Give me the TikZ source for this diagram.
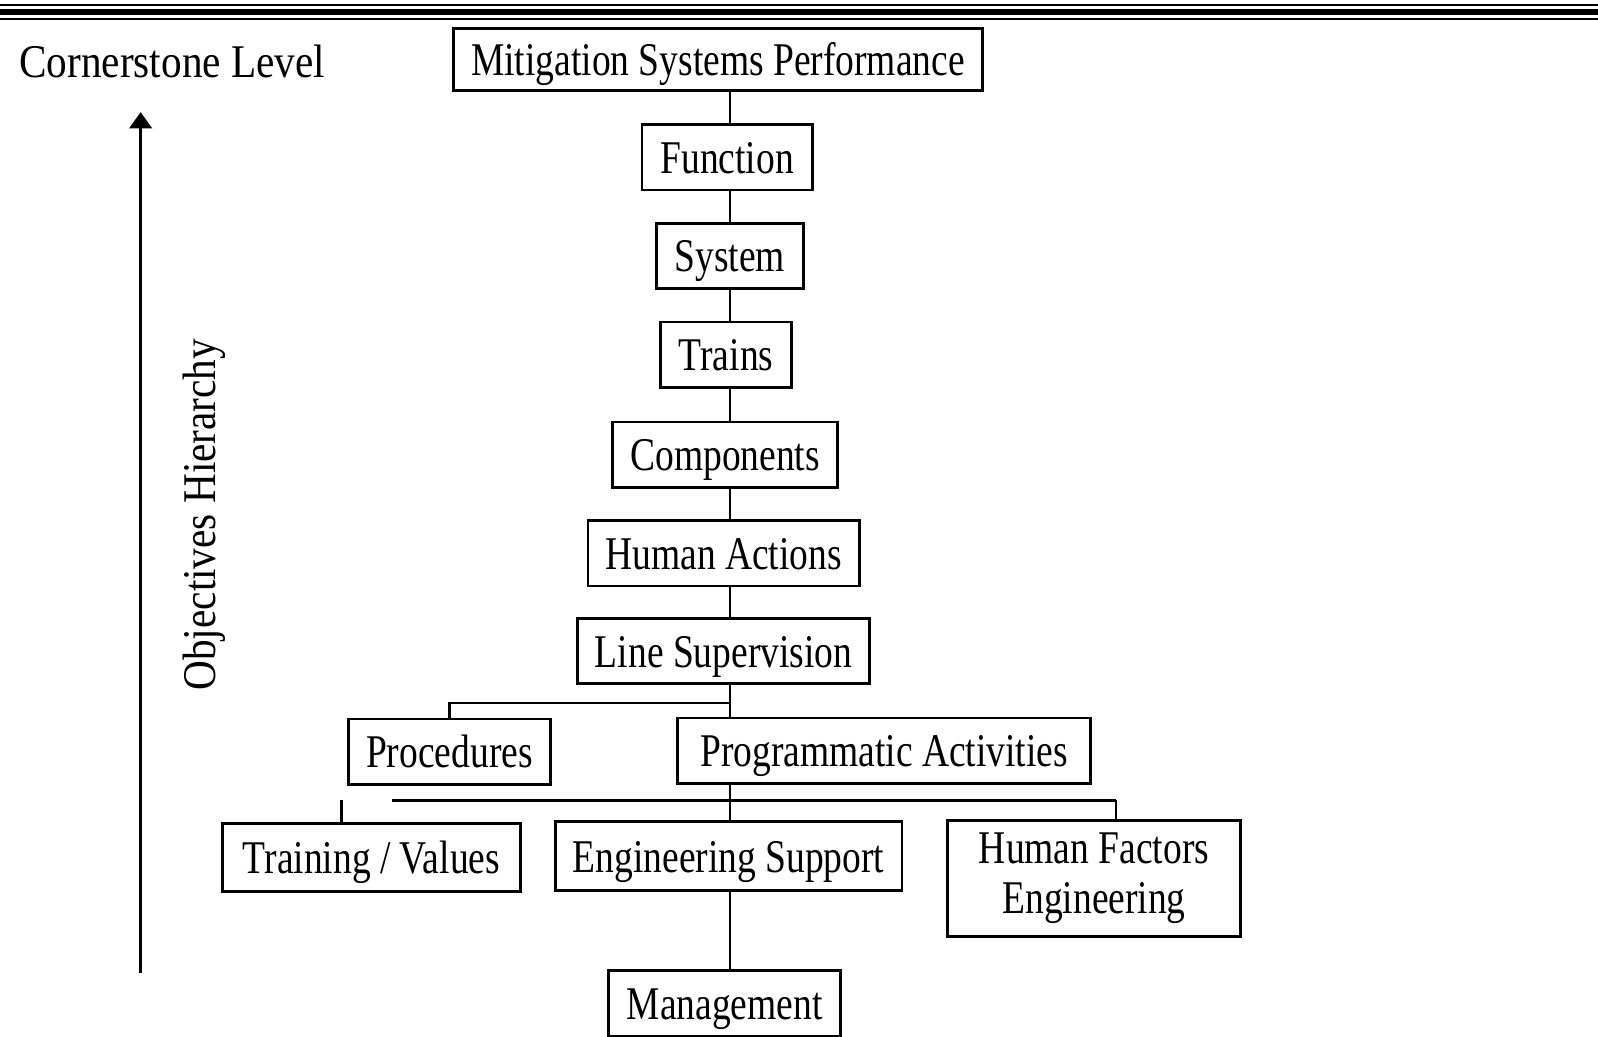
\documentclass[tikz,border=0pt]{standalone}
\usepackage{fontspec}
\setmainfont[FakeStretch=0.8]{Liberation Serif}
\newfontfamily\widefont[FakeStretch=0.88]{Liberation Serif}
\usetikzlibrary{arrows.meta}
\tikzset{
  box/.style={draw, line width=1.4pt, inner sep=0pt, minimum height=32pt, text height=17.5pt, text depth=1.8pt, font=\fontsize{23}{28}\selectfont},
  lbl/.style={inner sep=0pt, font=\widefont\fontsize{23}{28}\selectfont},
  link/.style={line width=1.1pt},
}
\begin{document}
\begin{tikzpicture}[x=0.5pt, y=-0.5pt]
  \useasboundingbox (0,0) rectangle (1568,1017.5);
  \draw[line width=0.8pt] (0,5) -- (1568,5);
  \draw[line width=3pt] (0,12) -- (1568,12);
  \draw[line width=1pt] (0,18.3) -- (1568,18.3);
  \node[lbl] (level) at (169,60) {Cornerstone Level};
  \node[lbl, rotate=90] (hier) at (200,505) {Objectives Hierarchy};
  \coordinate (base) at (138,955);
  \coordinate (top) at (138,110);
  \draw[line width=1.5pt, -{Triangle[length=8pt, width=11pt]}] (base) -- (top);
  \node[box, minimum width=259.5pt, minimum height=30.5pt] (mit) at (704.5,58.5) {Mitigation Systems Performance};
  \node[box, minimum width=83.5pt] (func) at (713.5,154.5) {Function};
  \node[box, minimum width=72pt] (sys) at (716,251) {System};
  \node[box, minimum width=64.5pt] (trains) at (712.5,348) {Trains};
  \node[box, minimum width=110.5pt] (comp) at (711.5,446) {Components};
  \node[box, minimum width=133pt] (human) at (710,543) {Human Actions};
  \node[box, minimum width=143pt] (linesup) at (710,639) {Line Supervision};
  \node[box, minimum width=99pt] (proc) at (441,737.5) {Procedures};
  \node[box, minimum width=202.5pt] (prog) at (867.5,736.5) {Programmatic Activities};
  \node[box, minimum width=146.5pt, minimum height=33.5pt] (train) at (364.5,841.5) {Training / Values};
  \node[box, minimum width=170pt, minimum height=34pt] (eng) at (715,840) {Engineering Support};
  \node[box, minimum width=143.5pt, minimum height=56.5pt, text height=, text depth=, align=center, font=\fontsize{23}{24.5}\selectfont] (hfe) at (1073.5,862) {Human Factors\\Engineering};
  \node[box, minimum width=114pt] (mgmt) at (711,984.5) {Management};
  \coordinate (trunk) at (716,0);
  \foreach \a/\b in {mit/func, func/sys, sys/trains, trains/comp, comp/human, human/linesup, linesup/prog, prog/eng, eng/mgmt}
    \draw[link] (\a.south -| trunk) -- (\b.north -| trunk);
  \coordinate (split) at (716,690);
  \draw[link] (split) -| (proc.north);
  \coordinate (barl) at (385,785);
  \coordinate (barr) at (1095,785);
  \coordinate (tick) at (335,785);
  \draw[line width=1.5pt] (barl) -- (barr);
  \draw[link] (barr) -- (barr |- hfe.north);
  \draw[link] (tick) -- (tick |- train.north);
\end{tikzpicture}
\end{document}
